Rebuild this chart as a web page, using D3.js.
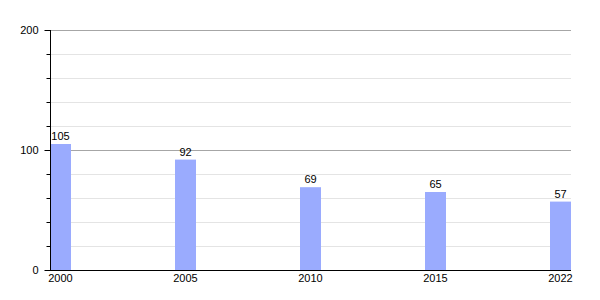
<!DOCTYPE html>
<html>
<head>
<meta charset="utf-8">
<script src="https://cdn.jsdelivr.net/npm/d3@7"></script>
<style>
  body { margin: 0; background: #fff; }
  text { font-family: "Liberation Sans", Arial, sans-serif; font-size: 11px; fill: #000; }
</style>
</head>
<body>
<svg id="chart" width="600" height="300"></svg>
<script>
const years = ["2000", "2005", "2010", "2015", "2022"];
const values = [105, 92, 69, 65, 57];
const majorTicks = [0, 100, 200];
const minorTicks = [20, 40, 60, 80, 120, 140, 160, 180];

const svg = d3.select("#chart");
const plot = { left: 50, right: 571, top: 30, bottom: 270 };

const x = d3.scaleBand()
  .domain(years)
  .range([plot.left, plot.right])
  .paddingInner(0.832)
  .paddingOuter(0);

const y = d3.scaleLinear().domain([0, 200]).range([plot.bottom, plot.top]);

// minor gridlines
svg.append("g")
  .selectAll("line")
  .data(minorTicks)
  .join("line")
  .attr("x1", plot.left).attr("x2", plot.right)
  .attr("y1", (d) => y(d) + 0.5).attr("y2", (d) => y(d) + 0.5)
  .attr("stroke", "#e4e4e4");

// major gridlines
svg.append("g")
  .selectAll("line")
  .data(majorTicks.filter((d) => d > 0))
  .join("line")
  .attr("x1", plot.left).attr("x2", plot.right)
  .attr("y1", (d) => y(d) + 0.5).attr("y2", (d) => y(d) + 0.5)
  .attr("stroke", "#a6a6a6");

// bars
svg.append("g")
  .selectAll("rect")
  .data(values)
  .join("rect")
  .attr("x", (d, i) => x(years[i]))
  .attr("y", (d) => y(d))
  .attr("width", x.bandwidth())
  .attr("height", (d) => plot.bottom - y(d))
  .attr("fill", "#9aabfe");

// value labels
svg.append("g")
  .selectAll("text")
  .data(values)
  .join("text")
  .attr("x", (d, i) => x(years[i]) + x.bandwidth() / 2)
  .attr("y", (d) => y(d) - 4)
  .attr("text-anchor", "middle")
  .text((d) => d);

// y axis
const yAxis = svg.append("g").attr("transform", `translate(${plot.left + 0.5},0)`);
yAxis.append("line")
  .attr("y1", plot.top).attr("y2", plot.bottom + 1)
  .attr("stroke", "#000");
yAxis.selectAll(".minor")
  .data(minorTicks)
  .join("line")
  .attr("class", "minor")
  .attr("x1", -4).attr("x2", 0)
  .attr("y1", (d) => y(d) + 0.5).attr("y2", (d) => y(d) + 0.5)
  .attr("stroke", "#000");
yAxis.selectAll(".major")
  .data(majorTicks)
  .join("line")
  .attr("class", "major")
  .attr("x1", -6).attr("x2", 0)
  .attr("y1", (d) => y(d) + 0.5).attr("y2", (d) => y(d) + 0.5)
  .attr("stroke", "#000");
yAxis.selectAll("text")
  .data(majorTicks)
  .join("text")
  .attr("x", -12)
  .attr("y", (d) => y(d) + 4)
  .attr("text-anchor", "end")
  .text((d) => d);

// x axis
svg.append("line")
  .attr("x1", plot.left).attr("x2", plot.right)
  .attr("y1", plot.bottom + 0.5).attr("y2", plot.bottom + 0.5)
  .attr("stroke", "#000");
svg.append("g")
  .selectAll("text")
  .data(years)
  .join("text")
  .attr("x", (d) => x(d) + x.bandwidth() / 2)
  .attr("y", plot.bottom + 12)
  .attr("text-anchor", "middle")
  .text((d) => d);
</script>
</body>
</html>
